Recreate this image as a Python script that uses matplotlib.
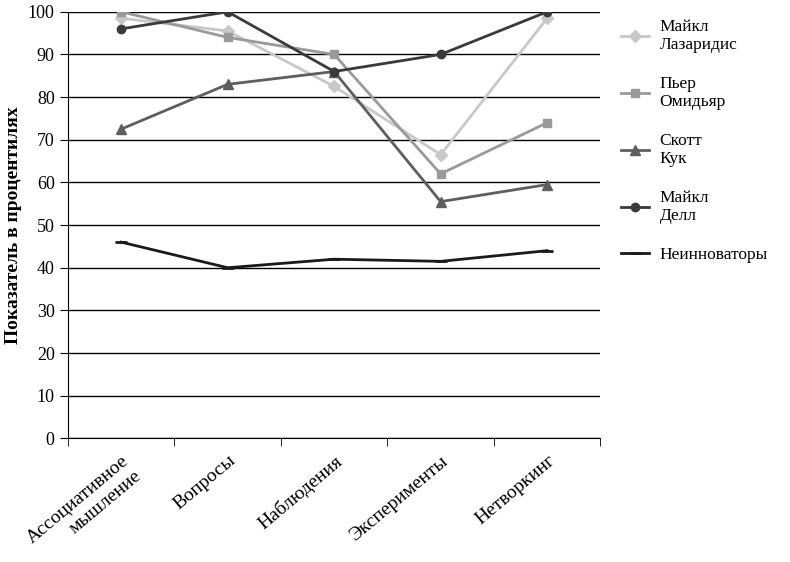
import numpy as np
import matplotlib.pyplot as plt

plt.rcParams['font.family'] = 'Liberation Serif'

categories = ['Ассоциативное\nмышление', 'Вопросы', 'Наблюдения', 'Эксперименты', 'Нетворкинг']
lazaridis = [98.5, 95.5, 82.5, 66.5, 98.5]
omidyar = [100, 94, 90, 62, 74]
cook = [72.5, 83, 86, 55.5, 59.5]
dell = [96, 100, 86, 90, 100]
non_innov = [46, 40, 42, 41.5, 44]

series = [
    ('Майкл\nЛазаридис', lazaridis, '#c8c8c8', 'D', 6),
    ('Пьер\nОмидьяр', omidyar, '#9a9a9a', 's', 6),
    ('Скотт\nКук', cook, '#5e5e5e', '^', 7),
    ('Майкл\nДелл', dell, '#3a3a3a', 'o', 6),
    ('Неинноваторы', non_innov, '#1a1a1a', '_', 8),
]

fig = plt.figure(figsize=(7.9, 5.62), dpi=100)
ax = fig.add_axes([0.086, 0.22, 0.674, 0.759])
x = np.arange(len(categories))
for name, vals, col, mk, ms in series:
    ax.plot(x, vals, color=col, marker=mk, markersize=ms, lw=2, label=name,
            markeredgewidth=2 if mk == '_' else 1)

ax.set_ylim(0, 100)
ax.set_xlim(-0.5, len(categories) - 0.5)
ax.set_yticks(range(0, 101, 10))
ax.yaxis.grid(True, color='black', lw=1)
ax.set_axisbelow(True)
ax.set_xticks(x)
ax.set_xticklabels(categories, rotation=40, ha='right', rotation_mode='anchor', fontsize=14)
ax.set_xticks(np.arange(-0.5, len(categories), 1), minor=True)
ax.tick_params(axis='x', which='major', length=0, pad=10)
ax.tick_params(axis='x', which='minor', length=6)
ax.tick_params(axis='y', labelsize=13, length=6)
for s in ['top', 'right']:
    ax.spines[s].set_visible(False)
ax.set_ylabel('Показатель в процентилях', fontsize=14, fontweight='bold')
ax.legend(loc='upper left', bbox_to_anchor=(1.01, 1.02), frameon=False,
          fontsize=12.5, labelspacing=1.3, handlelength=1.6, handletextpad=0.6)
fig.savefig('out.png', dpi=100)
